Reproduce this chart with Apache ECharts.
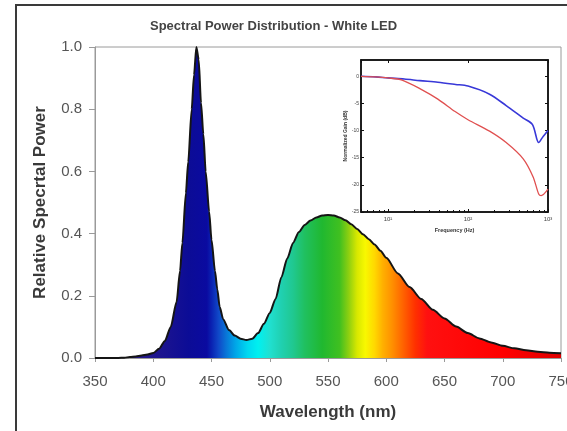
<!DOCTYPE html>
<html>
<head>
<meta charset="utf-8">
<script src="https://cdn.jsdelivr.net/npm/echarts@6/dist/echarts.min.js"></script>
<style>
html, body { margin: 0; padding: 0; background: #fff; }
#chart { width: 567px; height: 431px; }
</style>
</head>
<body>
<div id="chart"></div>
<script>
// main spectrum (nm, relative power)
var wavelength = [350, 360, 370, 375, 380, 385, 390, 395, 400, 405, 410, 415, 420, 423, 425, 428, 430, 433, 435, 437,
  439, 441, 443, 445, 448, 450, 453, 455, 457, 460, 465, 470, 475, 480, 485, 490, 495, 500, 505, 510,
  515, 520, 525, 530, 535, 540, 545, 550, 555, 560, 565, 570, 575, 580, 585, 590, 595, 600, 610, 620,
  630, 640, 650, 660, 670, 680, 690, 700, 710, 720, 730, 740, 750];
var power = [0, 0, 0, 0.001, 0.003, 0.005, 0.008, 0.011, 0.016, 0.03, 0.055, 0.10, 0.18, 0.28, 0.37, 0.53, 0.63, 0.80, 0.91, 1.0,
  0.96, 0.82, 0.72, 0.60, 0.47, 0.38, 0.28, 0.22, 0.165, 0.125, 0.09, 0.072, 0.062, 0.058, 0.062, 0.08, 0.11, 0.145, 0.19, 0.26,
  0.32, 0.37, 0.405, 0.428, 0.442, 0.452, 0.458, 0.46, 0.458, 0.452, 0.443, 0.43, 0.415, 0.398, 0.382, 0.365, 0.345, 0.322, 0.272, 0.228,
  0.19, 0.155, 0.127, 0.101, 0.08, 0.063, 0.05, 0.039, 0.031, 0.025, 0.02, 0.017, 0.015];

// inset: frequency response (Hz, dB)
var blueFreq = [4.6, 7, 10, 16, 25, 42, 70, 100, 186, 300, 490, 640, 765, 850, 1000];
var blueGain = [0, -0.1, -0.3, -0.5, -0.8, -1.1, -1.5, -1.8, -3.3, -5.4, -7.7, -8.9, -12.2, -11.3, -10];
var redFreq = [4.6, 7, 10, 15, 26, 42, 69, 100, 186, 300, 490, 650, 765, 820, 1000];
var redGain = [0, -0.1, -0.3, -0.7, -2.4, -4.2, -6.5, -8.0, -10.1, -12.2, -15.2, -18.5, -21.7, -22, -20.8];

var yTicks = ['0.0', '0.2', '0.4', '0.6', '0.8', '1.0'];
var decadeLabels = {1: '10\u00b9', 2: '10\u00b2', 3: '10\u00b3'};

// rainbow fill, [nm, colour]
var spectrumStops = [
  [380, '#2a1a8a'], [410, '#1a1390'], [430, '#0c0c96'], [446, '#0a0aa0'], [450, '#0a22b2'],
  [456, '#1048c8'], [463, '#0878d8'], [471, '#00a8e8'], [481, '#00d8f0'], [490, '#00f0f0'],
  [500, '#20e0d0'], [510, '#20d0b0'], [520, '#20c890'], [530, '#20c060'], [545, '#20b830'],
  [560, '#40c020'], [568, '#90d010'], [575, '#d8e800'], [582, '#f8f800'], [590, '#ffd800'],
  [597, '#ffb000'], [605, '#ff9000'], [615, '#ff6000'], [625, '#ff3000'], [635, '#ff1010'],
  [700, '#ff0000'], [750, '#e00000']
];

var specPts = wavelength.map(function (w, i) { return [w, power[i]]; });
var bluePts = blueFreq.map(function (f, i) { return [f, blueGain[i]]; });
var redPts = redFreq.map(function (f, i) { return [f, redGain[i]]; });

var fill = new echarts.graphic.LinearGradient(0, 0, 1, 0, spectrumStops.map(function (s) {
  return { offset: (s[0] - 350) / 400, color: s[1] };
}));

var font = 'Liberation Sans, Arial, sans-serif';
var gray = '#9a9a9a';

var chart = echarts.init(document.getElementById('chart'));
chart.setOption({
  backgroundColor: '#fff',
  animation: false,
  title: {
    text: 'Spectral Power Distribution - White LED',
    left: 145,
    top: 15,
    textStyle: { fontFamily: font, fontSize: 13, fontWeight: 'bold', color: '#444' }
  },
  graphic: [{
    type: 'rect',
    shape: { x: 16, y: 5, width: 570, height: 450 },
    style: { fill: 'none', stroke: '#3a3a3a', lineWidth: 2 },
    silent: true
  }],
  grid: [
    { left: 95, right: 6, top: 47, bottom: 73, show: true, borderColor: gray, borderWidth: 1, outerBoundsMode: 'none' },
    { left: 361, top: 60, width: 187, height: 152, show: true, borderColor: '#111', borderWidth: 1.5,
      backgroundColor: '#fff', outerBoundsMode: 'none' }
  ],
  xAxis: [
    {
      type: 'value', gridIndex: 0, min: 350, max: 750, interval: 50,
      name: 'Wavelength (nm)', nameLocation: 'middle', nameGap: 46,
      nameTextStyle: { fontFamily: font, fontSize: 17, fontWeight: 'bold', color: '#3a3a3a' },
      axisLine: { lineStyle: { color: gray } },
      axisTick: { show: true, length: 4, lineStyle: { color: gray } },
      axisLabel: { fontFamily: font, fontSize: 15, color: '#555', margin: 16 },
      splitLine: { show: false }
    },
    {
      type: 'log', gridIndex: 1, min: 4.6, max: 1000,
      name: 'Frequency (Hz)', nameLocation: 'middle', nameGap: 15,
      nameTextStyle: { fontFamily: font, fontSize: 5.5, fontWeight: 'bold', color: '#333' },
      axisLine: { onZero: false, lineStyle: { color: '#111', width: 1.5 } },
      axisTick: { inside: true, length: 3, lineStyle: { color: '#111' } },
      minorTick: { show: true, splitNumber: 8, length: 2, lineStyle: { color: '#111' } },
      axisLabel: {
        fontFamily: font, fontSize: 6, color: '#444', margin: 4, showMinLabel: false,
        formatter: function (v) { return decadeLabels[Math.round(Math.log10(v))] || ''; }
      },
      splitLine: { show: false }
    },
    {
      type: 'log', gridIndex: 1, min: 4.6, max: 1000, position: 'top',
      axisLine: { onZero: false, lineStyle: { color: '#111', width: 1.5 } },
      axisTick: { inside: true, length: 3, lineStyle: { color: '#111' } },
      axisLabel: { show: false },
      splitLine: { show: false }
    }
  ],
  yAxis: [
    {
      type: 'value', gridIndex: 0, min: 0, max: 1, interval: 0.2,
      name: 'Relative Specrtal Power', nameLocation: 'middle', nameGap: 46,
      nameTextStyle: { fontFamily: font, fontSize: 17, fontWeight: 'bold', color: '#3a3a3a' },
      axisLine: { show: true, lineStyle: { color: gray } },
      axisTick: { show: true, length: 6, lineStyle: { color: gray } },
      axisLabel: {
        fontFamily: font, fontSize: 15, color: '#555', margin: 13,
        formatter: function (v) { return yTicks[Math.round(v * 5)]; }
      },
      splitLine: { show: false }
    },
    {
      type: 'value', gridIndex: 1, min: -25, max: 3, interval: 5,
      name: 'Normalized Gain (dB)', nameLocation: 'middle', nameGap: 12,
      nameTextStyle: { fontFamily: font, fontSize: 5, fontWeight: 'bold', color: '#333' },
      axisLine: { show: true, onZero: false, lineStyle: { color: '#111', width: 1.5 } },
      axisTick: { show: true, inside: true, length: 3, lineStyle: { color: '#111' } },
      axisLabel: { fontFamily: font, fontSize: 5, color: '#444', margin: 2, showMaxLabel: false },
      splitLine: { show: false }
    },
    {
      type: 'value', gridIndex: 1, min: -25, max: 3, interval: 5, position: 'right',
      axisLine: { show: true, onZero: false, lineStyle: { color: '#111', width: 1.5 } },
      axisTick: { show: true, inside: true, length: 3, lineStyle: { color: '#111' } },
      axisLabel: { show: false },
      splitLine: { show: false }
    }
  ],
  series: [
    {
      type: 'line', xAxisIndex: 0, yAxisIndex: 0, data: specPts,
      showSymbol: false, smooth: 0.25, smoothMonotone: 'x',
      lineStyle: { color: '#151515', width: 2 },
      areaStyle: { color: fill, opacity: 1 },
      z: 3
    },
    {
      type: 'line', xAxisIndex: 1, yAxisIndex: 1, data: bluePts,
      showSymbol: false, smooth: 0.3,
      lineStyle: { color: '#3838d8', width: 1.6 }
    },
    {
      type: 'line', xAxisIndex: 1, yAxisIndex: 1, data: redPts,
      showSymbol: false, smooth: 0.3,
      lineStyle: { color: '#e05050', width: 1.3 }
    }
  ]
});
</script>
</body>
</html>
